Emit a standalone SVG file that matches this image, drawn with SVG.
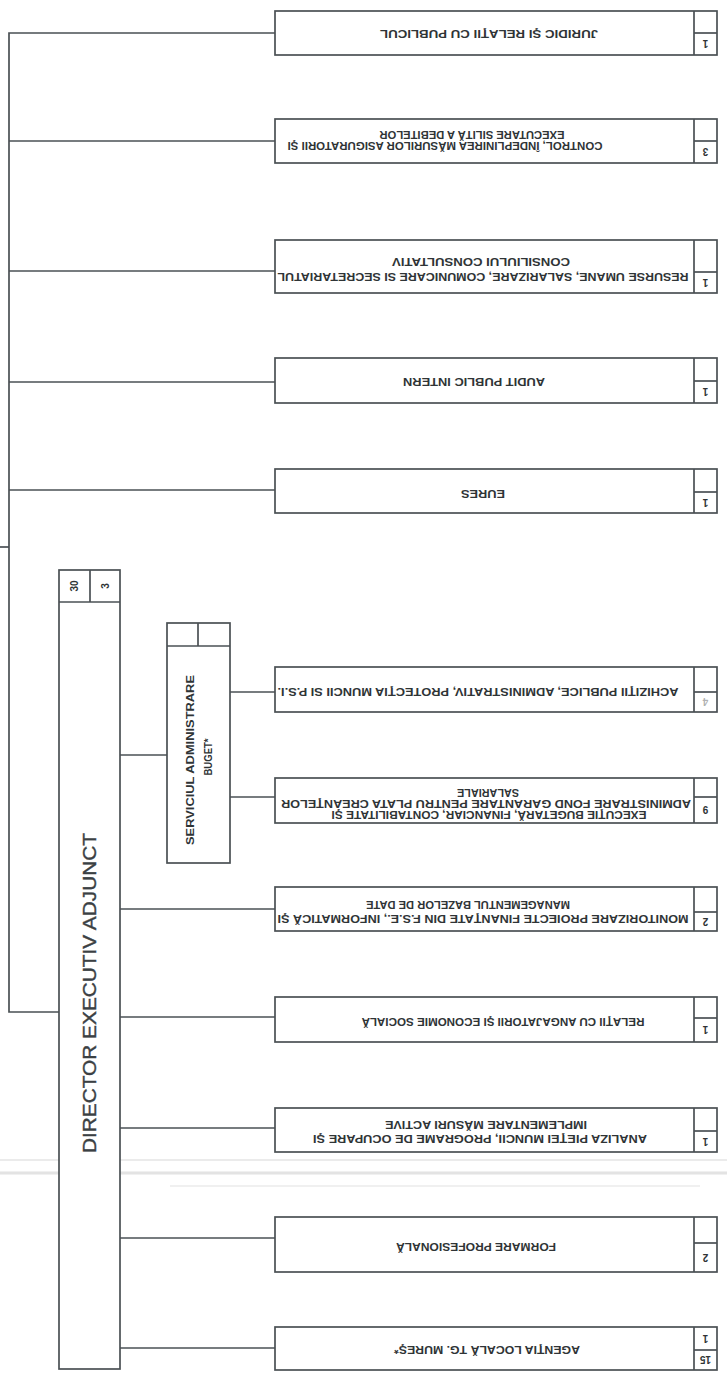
<svg xmlns="http://www.w3.org/2000/svg" width="727" height="1374" viewBox="0 0 727 1374">
<style>
.bx{fill:#fff;stroke:#4a5054;stroke-width:1.7}
.ln{stroke:#4a5054;stroke-width:1.7;fill:none}
.t{font-family:"Liberation Sans",Arial,sans-serif;font-weight:bold;font-size:10px;fill:#2f3436}
.n{font-family:"Liberation Sans",Arial,sans-serif;font-weight:bold;font-size:10px;fill:#2f3436}
.d{font-family:"Liberation Sans",Arial,sans-serif;font-size:19px;fill:#3b4043;stroke:#3b4043;stroke-width:0.4}
.s{font-family:"Liberation Sans",Arial,sans-serif;font-weight:bold;font-size:10.5px;fill:#2f3436}
</style>
<rect width="727" height="1374" fill="#fff"/>
<g id="scan-band" opacity="0.5">
<line x1="0" y1="1160" x2="727" y2="1160" stroke="#d8d8d8" stroke-width="2"/>
<line x1="0" y1="1173" x2="727" y2="1173" stroke="#c8c8c8" stroke-width="3"/>
<line x1="170" y1="1186" x2="700" y2="1186" stroke="#e2e2e2" stroke-width="2"/>
</g>
<g id="connectors" class="ln">
<polyline points="275,33 9,33 9,1012 59,1012"/>
<line x1="0" y1="547" x2="9" y2="547"/>
<line x1="9" y1="141" x2="275" y2="141"/>
<line x1="9" y1="271" x2="275" y2="271"/>
<line x1="9" y1="382" x2="275" y2="382"/>
<line x1="9" y1="490" x2="275" y2="490"/>
<line x1="120" y1="755" x2="167" y2="755"/>
<line x1="230" y1="692" x2="275" y2="692"/>
<line x1="230" y1="797" x2="275" y2="797"/>
<line x1="120" y1="909" x2="275" y2="909"/>
<line x1="120" y1="1017" x2="275" y2="1017"/>
<line x1="120" y1="1128" x2="275" y2="1128"/>
<line x1="120" y1="1238" x2="275" y2="1238"/>
<line x1="120" y1="1348" x2="275" y2="1348"/>
</g>
<g id="director">
<rect class="bx" x="59" y="570" width="61" height="799"/>
<line class="ln" x1="59" y1="602" x2="120" y2="602"/>
<line class="ln" x1="90" y1="570" x2="90" y2="602"/>
<text class="n" x="74.5" y="589.5" text-anchor="middle" font-size="11" transform="rotate(-90 74.5 586)">30</text>
<text class="n" x="105" y="589.5" text-anchor="middle" font-size="11" transform="rotate(-90 105 586)">3</text>
<text class="d" x="89" y="1000" text-anchor="middle" textLength="320" lengthAdjust="spacingAndGlyphs" transform="rotate(-90 89 993)">DIRECTOR EXECUTIV ADJUNCT</text>
</g>
<g id="serviciul">
<rect class="bx" x="167" y="623" width="63" height="240"/>
<line class="ln" x1="167" y1="646" x2="230" y2="646"/>
<line class="ln" x1="198" y1="623" x2="198" y2="646"/>
<text class="s" x="190" y="763.8" text-anchor="middle" textLength="170" lengthAdjust="spacingAndGlyphs" transform="rotate(-90 190 760)">SERVICIUL ADMINISTRARE</text>
<text class="s" x="208" y="760.8" text-anchor="middle" textLength="37" lengthAdjust="spacingAndGlyphs" transform="rotate(-90 208 757)">BUGET*</text>
</g>
<g id="n1">
<rect class="bx" x="275" y="11" width="442" height="44"/>
<line class="ln" x1="694" y1="11" x2="694" y2="55"/><line class="ln" x1="694" y1="33" x2="717" y2="33"/>
<text class="n" x="705.5" y="47.6" text-anchor="middle" transform="rotate(180 705.5 44)">1</text>
<text class="t" x="489" y="37.6" text-anchor="middle" textLength="218" lengthAdjust="spacingAndGlyphs" transform="rotate(180 489 34)">JURIDIC ŞI RELAŢII CU PUBLICUL</text>
</g>
<g id="n2">
<rect class="bx" x="275" y="119" width="442" height="44"/>
<line class="ln" x1="694" y1="119" x2="694" y2="163"/><line class="ln" x1="694" y1="141" x2="717" y2="141"/>
<text class="n" x="705.5" y="155.6" text-anchor="middle" transform="rotate(180 705.5 152)">3</text>
<text class="t" x="445" y="149.6" text-anchor="middle" textLength="315" lengthAdjust="spacingAndGlyphs" transform="rotate(180 445 146)">CONTROL, ÎNDEPLINIREA MĂSURILOR ASIGURATORII ŞI</text>
<text class="t" x="472" y="138.6" text-anchor="middle" textLength="185" lengthAdjust="spacingAndGlyphs" transform="rotate(180 472 135)">EXECUTARE SILITĂ A DEBITELOR</text>
</g>
<g id="n3">
<rect class="bx" x="275" y="240" width="442" height="53"/>
<line class="ln" x1="694" y1="240" x2="694" y2="293"/><line class="ln" x1="694" y1="272" x2="717" y2="272"/>
<text class="n" x="705.5" y="286.1" text-anchor="middle" transform="rotate(180 705.5 282.5)">1</text>
<text class="t" x="483" y="280.6" text-anchor="middle" textLength="411" lengthAdjust="spacingAndGlyphs" transform="rotate(180 483 277)">RESURSE UMANE, SALARIZARE, COMUNICARE SI SECRETARIATUL</text>
<text class="t" x="481" y="265.6" text-anchor="middle" textLength="178" lengthAdjust="spacingAndGlyphs" transform="rotate(180 481 262)">CONSILIULUI CONSULTATIV</text>
</g>
<g id="n4">
<rect class="bx" x="275" y="358" width="442" height="45"/>
<line class="ln" x1="694" y1="358" x2="694" y2="403"/><line class="ln" x1="694" y1="381" x2="717" y2="381"/>
<text class="n" x="705.5" y="395.6" text-anchor="middle" transform="rotate(180 705.5 392)">1</text>
<text class="t" x="474" y="385.6" text-anchor="middle" textLength="142" lengthAdjust="spacingAndGlyphs" transform="rotate(180 474 382)">AUDIT PUBLIC INTERN</text>
</g>
<g id="n5">
<rect class="bx" x="275" y="469" width="442" height="44"/>
<line class="ln" x1="694" y1="469" x2="694" y2="513"/><line class="ln" x1="694" y1="492" x2="717" y2="492"/>
<text class="n" x="705.5" y="506.1" text-anchor="middle" transform="rotate(180 705.5 502.5)">1</text>
<text class="t" x="483" y="497.6" text-anchor="middle" textLength="44" lengthAdjust="spacingAndGlyphs" transform="rotate(180 483 494)">EURES</text>
</g>
<g id="n6">
<rect class="bx" x="275" y="667" width="442" height="45"/>
<line class="ln" x1="694" y1="667" x2="694" y2="712"/><line class="ln" x1="694" y1="692" x2="717" y2="692"/>
<text class="n" x="705.5" y="705.6" text-anchor="middle" fill-opacity="0.4" transform="rotate(180 705.5 702)">4</text>
<text class="t" x="478" y="695.6" text-anchor="middle" textLength="401" lengthAdjust="spacingAndGlyphs" transform="rotate(180 478 692)">ACHIZIŢII PUBLICE, ADMINISTRATIV, PROTECŢIA MUNCII SI P.S.I.</text>
</g>
<g id="n7">
<rect class="bx" x="275" y="778" width="442" height="45"/>
<line class="ln" x1="694" y1="778" x2="694" y2="823"/><line class="ln" x1="694" y1="797" x2="717" y2="797"/>
<text class="n" x="705.5" y="813.6" text-anchor="middle" transform="rotate(180 705.5 810)">9</text>
<text class="t" x="489" y="818.6" text-anchor="middle" textLength="315" lengthAdjust="spacingAndGlyphs" transform="rotate(180 489 815)">EXECUŢIE BUGETARĂ, FINANCIAR, CONTABILITATE ŞI</text>
<text class="t" x="486" y="807.6" text-anchor="middle" textLength="410" lengthAdjust="spacingAndGlyphs" transform="rotate(180 486 804)">ADMINISTRARE FOND GARANTARE PENTRU PLATA CREANŢELOR</text>
<text class="t" x="488" y="796.6" text-anchor="middle" textLength="62" lengthAdjust="spacingAndGlyphs" transform="rotate(180 488 793)">SALARIALE</text>
</g>
<g id="n8">
<rect class="bx" x="275" y="887" width="442" height="44"/>
<line class="ln" x1="694" y1="887" x2="694" y2="931"/><line class="ln" x1="694" y1="912" x2="717" y2="912"/>
<text class="n" x="705.5" y="925.1" text-anchor="middle" transform="rotate(180 705.5 921.5)">2</text>
<text class="t" x="483" y="922.6" text-anchor="middle" textLength="411" lengthAdjust="spacingAndGlyphs" transform="rotate(180 483 919)">MONITORIZARE PROIECTE FINANŢATE DIN F.S.E., INFORMATICĂ ŞI</text>
<text class="t" x="468" y="908.6" text-anchor="middle" textLength="204" lengthAdjust="spacingAndGlyphs" transform="rotate(180 468 905)">MANAGEMENTUL BAZELOR DE DATE</text>
</g>
<g id="n9">
<rect class="bx" x="275" y="997" width="442" height="45"/>
<line class="ln" x1="694" y1="997" x2="694" y2="1042"/><line class="ln" x1="694" y1="1018" x2="717" y2="1018"/>
<text class="n" x="705.5" y="1033.6" text-anchor="middle" transform="rotate(180 705.5 1030)">1</text>
<text class="t" x="503" y="1025.6" text-anchor="middle" textLength="283" lengthAdjust="spacingAndGlyphs" transform="rotate(180 503 1022)">RELAŢII  CU  ANGAJATORII  ŞI ECONOMIE SOCIALĂ</text>
</g>
<g id="n10">
<rect class="bx" x="275" y="1108" width="442" height="44"/>
<line class="ln" x1="694" y1="1108" x2="694" y2="1152"/><line class="ln" x1="694" y1="1131" x2="717" y2="1131"/>
<text class="n" x="705.5" y="1145.1" text-anchor="middle" transform="rotate(180 705.5 1141.5)">1</text>
<text class="t" x="480" y="1142.6" text-anchor="middle" textLength="334" lengthAdjust="spacingAndGlyphs" transform="rotate(180 480 1139)">ANALIZA PIEŢEI MUNCII, PROGRAME DE OCUPARE ŞI</text>
<text class="t" x="486" y="1128.6" text-anchor="middle" textLength="202" lengthAdjust="spacingAndGlyphs" transform="rotate(180 486 1125)">IMPLEMENTARE MĂSURI ACTIVE</text>
</g>
<g id="n11">
<rect class="bx" x="275" y="1217" width="442" height="55"/>
<line class="ln" x1="694" y1="1217" x2="694" y2="1272"/><line class="ln" x1="694" y1="1243" x2="717" y2="1243"/>
<text class="n" x="705.5" y="1261.1" text-anchor="middle" transform="rotate(180 705.5 1257.5)">2</text>
<text class="t" x="476" y="1250.6" text-anchor="middle" textLength="160" lengthAdjust="spacingAndGlyphs" transform="rotate(180 476 1247)">FORMARE PROFESIONALĂ</text>
</g>
<g id="n12">
<rect class="bx" x="275" y="1327" width="442" height="43"/>
<line class="ln" x1="694" y1="1327" x2="694" y2="1370"/><line class="ln" x1="694" y1="1350" x2="717" y2="1350"/>
<text class="n" x="705.5" y="1342.1" text-anchor="middle" transform="rotate(180 705.5 1338.5)">1</text>
<text class="n" x="705.5" y="1363.6" text-anchor="middle" transform="rotate(180 705.5 1360)">15</text>
<text class="t" x="487" y="1353.6" text-anchor="middle" textLength="186" lengthAdjust="spacingAndGlyphs" transform="rotate(180 487 1350)">AGENŢIA LOCALĂ TG. MUREŞ*</text>
</g>
</svg>
